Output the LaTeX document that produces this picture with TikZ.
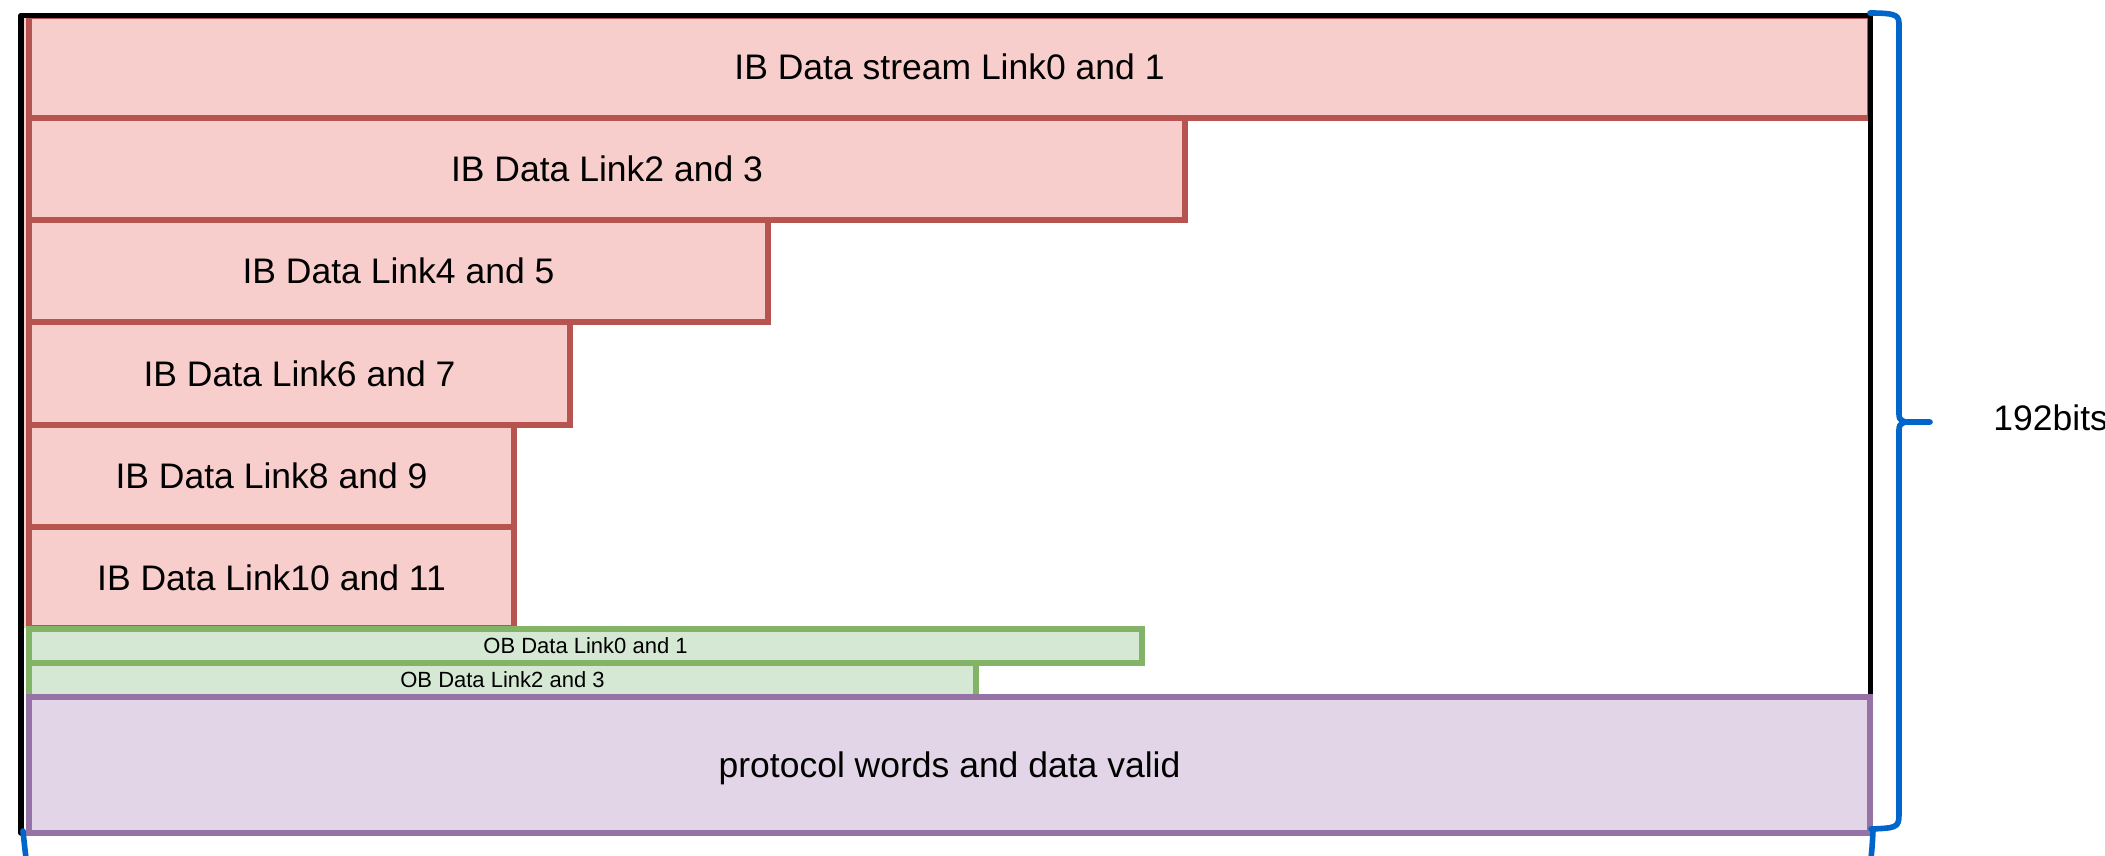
\documentclass[tikz,border=0pt]{standalone}
\usepackage{fontspec}
\setmainfont{Liberation Sans}

\definecolor{ibfill}{HTML}{F8CECC}
\definecolor{ibline}{HTML}{B85450}
\definecolor{obfill}{HTML}{D5E8D4}
\definecolor{obline}{HTML}{82B366}
\definecolor{pwfill}{HTML}{E1D5E7}
\definecolor{pwline}{HTML}{9673A6}
\definecolor{bracecol}{HTML}{0066CC}

% a field of the word: name, style, left, top, right, bottom, label
\newcommand\fieldbox[7]{%
  \node[#2, minimum width={(#5-#3)*0.5pt}, minimum height={(#6-#4)*0.5pt}]
    (#1) at ({(#3+#5)/2},{(#4+#6)/2}) {#7};}

\tikzset{
  field/.style={rectangle, inner sep=0pt, outer sep=0pt, line width=2.8pt},
  bigtext/.style={font=\fontsize{17.75pt}{20pt}\selectfont,
    text height=12.7pt, text depth=0pt},
  smalltext/.style={font=\fontsize{11pt}{13pt}\selectfont,
    text height=7.9pt, text depth=0pt},
  ibbox/.style={field, bigtext, fill=ibfill, draw=ibline},
  obbox/.style={field, smalltext, fill=obfill, draw=obline},
  pwbox/.style={field, bigtext, fill=pwfill, draw=pwline},
  frame/.style={line width=2.8pt, black, line join=round, line cap=round},
  bracestyle/.style={line width=2.8pt, bracecol, line cap=round, line join=round},
}

\begin{document}
\begin{tikzpicture}[x=0.5pt, y=-0.5pt]
  \useasboundingbox (0,0) rectangle (2105,856);

  % inbound link fields
  \fill[ibfill] (23,16) rectangle (29,628);
  \fieldbox{ib01}{ibbox}{29}{16}{1870}{118}{IB Data stream Link0 and 1}
  \fieldbox{ib23}{ibbox}{29}{118}{1185}{220}{IB Data Link2 and 3}
  \fieldbox{ib45}{ibbox}{29}{220}{768}{322}{IB Data Link4 and 5}
  \fieldbox{ib67}{ibbox}{29}{322}{570}{425}{IB Data Link6 and 7}
  \fieldbox{ib89}{ibbox}{29}{425}{514}{527}{IB Data Link8 and 9}
  \fieldbox{ib1011}{ibbox}{29}{527}{514}{628}{IB Data Link10 and 11}

  % outer frame of the 192-bit word
  \draw[frame] (21,833) -- (21,15.5) -- (1870.5,15.5) -- (1870.5,833);

  % outbound link fields
  \fieldbox{ob01}{obbox}{29}{629}{1142}{663}{OB Data Link0 and 1}
  \fieldbox{ob23}{obbox}{29}{663}{976}{697}{OB Data Link2 and 3}

  % protocol field
  \fieldbox{proto}{pwbox}{29}{697}{1870}{833}{protocol words and data valid}

  % width brace and its label
  \coordinate (btop) at (1870,13);
  \coordinate (bbot) at (1871,829);
  \coordinate (btip) at (1930,422);
  \draw[bracestyle] (btop) .. controls (1899,13) and (1899,16) .. (1899,26)
    -- (1899,412) .. controls (1899,419) .. (1905,422) -- (btip);
  \draw[bracestyle] (1905,422) .. controls (1899,425) .. (1899,432)
    -- (1899,815) .. controls (1899,828) and (1895,828) .. (bbot);
  \node[bigtext, anchor=base west, inner sep=0pt] (bits) at (1993,430) {192bits};

  % ends of the lower brace
  \draw[bracestyle] (23,831) .. controls (25,850) .. (28,875);
  \draw[bracestyle] (1873,831) .. controls (1872,850) .. (1869,875);
\end{tikzpicture}
\end{document}
